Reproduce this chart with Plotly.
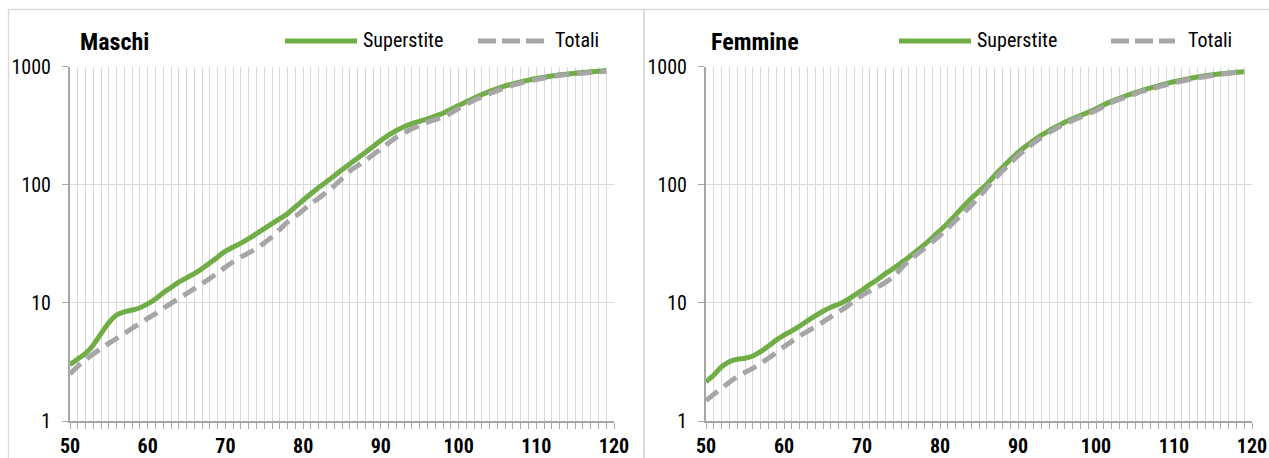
import plotly.graph_objects as go

W, H = 1269, 458

ages = list(range(50, 120))

maschi_superstite = [3.0, 3.35, 3.73, 4.4, 5.5, 6.8, 7.9, 8.4, 8.7, 9.1,
                     9.8, 10.8, 12.2, 13.5, 15.0, 16.3, 17.7, 19.5, 21.8, 24.5,
                     27.4, 29.7, 32.1, 35, 38.6, 42.6, 46.9, 51.7, 57, 65,
                     74, 84, 95, 106, 119, 134, 150, 168, 188, 211,
                     237, 263, 288, 310, 329, 345, 362, 382, 404, 435,
                     470, 505, 542, 580, 618, 653, 687, 716, 743, 769,
                     794, 815, 835, 853, 869, 882, 893, 905, 916, 929]

maschi_totali = [2.5, 2.9, 3.3, 3.7, 4.1, 4.55, 5.0, 5.5, 6.1, 6.7,
                 7.4, 8.1, 9.0, 9.9, 10.9, 12.0, 13.2, 14.6, 16.1, 18.0,
                 20.1, 22.3, 24.5, 26.5, 28.8, 32.2, 36.2, 42, 48.4, 54,
                 61, 69, 77, 87, 98, 113, 131, 145, 160, 180,
                 201, 226, 253, 276, 298, 318, 339, 356, 374, 405,
                 441, 480, 519, 555, 591, 628, 665, 697, 728, 754,
                 778, 803, 826, 843, 859, 870, 881, 892, 903, 916]

femmine_superstite = [2.15, 2.45, 2.88, 3.18, 3.33, 3.40, 3.55, 3.86, 4.31, 4.84,
                      5.34, 5.8, 6.35, 7.05, 7.76, 8.5, 9.2, 9.75, 10.5, 11.6,
                      12.8, 14.3, 15.8, 17.7, 19.5, 21.8, 24.4, 27.5, 31.1, 35.6,
                      41, 47.3, 55.5, 65.5, 76.5, 88, 101, 120, 140, 163,
                      188, 212, 237, 263, 288, 313, 339, 362, 386, 412,
                      441, 475, 509, 541, 573, 603, 632, 661, 689, 717,
                      745, 770, 795, 817, 837, 855, 871, 884, 896, 906]

femmine_totali = [1.49, 1.68, 1.90, 2.13, 2.38, 2.58, 2.79, 3.08, 3.40, 3.80,
                  4.26, 4.72, 5.24, 5.73, 6.27, 6.9, 7.62, 8.4, 9.25, 10.4,
                  11.6, 12.6, 13.6, 14.9, 16.6, 19.5, 22.9, 25.7, 28.8, 32.8,
                  37.3, 43, 49.9, 57.5, 66.7, 79, 94, 112, 131, 153,
                  176, 200, 226, 252, 278, 303, 328, 351, 374, 399,
                  426, 461, 497, 528, 558, 589, 620, 647, 674, 701,
                  729, 755, 780, 801, 822, 842, 861, 879, 896, 906]

x_tick_vals = [50, 60, 70, 80, 90, 100, 110, 120]
x_tick_text = ["50", "60", "70", "80", "90", "100", "110", "120"]
y_tick_vals = [1, 10, 100, 1000]
y_tick_text = ["1", "10", "100", "1000"]

panel_titles = ["Maschi", "Femmine"]
series_names = ["Superstite", "Totali"]

GREEN = "#70ad47"
GRAY = "#a6a6a6"
GRID = "#d9d9d9"
AXIS = "#a6a6a6"
FONT = "Liberation Sans Narrow, Arial Narrow, Roboto Condensed, DejaVu Sans Condensed, Liberation Sans, Arial, sans-serif"


def px_x(p):
    return p / W


def px_y(p):
    return 1 - p / H


fig = go.Figure()

panels = [
    dict(xa="x", ya="y", xd=[px_x(70), px_x(614)], data=(maschi_superstite, maschi_totali)),
    dict(xa="x2", ya="y2", xd=[px_x(706), px_x(1252)], data=(femmine_superstite, femmine_totali)),
]

for p in panels:
    sup, tot = p["data"]
    fig.add_trace(go.Scatter(x=ages, y=sup, mode="lines", name=series_names[0],
                             line=dict(color=GREEN, width=5, shape="spline", smoothing=0.8),
                             xaxis=p["xa"], yaxis=p["ya"], showlegend=False))
    fig.add_trace(go.Scatter(x=ages, y=tot, mode="lines", name=series_names[1],
                             line=dict(color=GRAY, width=5, shape="spline", smoothing=0.8, dash="15px,8px"),
                             xaxis=p["xa"], yaxis=p["ya"], showlegend=False))

ydom = [px_y(421), px_y(66.7)]

xcommon = dict(range=[50, 120], tickmode="array", tickvals=x_tick_vals, ticktext=x_tick_text,
               ticks="outside", ticklen=6, tickcolor=AXIS, tickwidth=1,
               showline=True, linecolor=AXIS, linewidth=2,
               showgrid=True, gridcolor=GRID, gridwidth=1, zeroline=False,
               tickfont=dict(family=FONT, size=20, color="#000000", weight="bold"),
               minor=dict(dtick=1, tick0=50, ticks="outside", ticklen=6, tickcolor=AXIS,
                          showgrid=True, gridcolor=GRID, gridwidth=1),
               ticklabelstandoff=0, fixedrange=True, automargin=False)
ycommon = dict(type="log", range=[0, 3], tickmode="array", tickvals=y_tick_vals, ticktext=y_tick_text,
               ticks="outside", ticklen=6, tickcolor=AXIS, tickwidth=1,
               showline=True, linecolor=AXIS, linewidth=2,
               showgrid=True, gridcolor=GRID, gridwidth=1, zeroline=False,
               tickfont=dict(family=FONT, size=20, color="#000000"),
               ticklabelstandoff=7, domain=ydom, fixedrange=True, automargin=False)

fig.update_layout(
    width=W, height=H,
    margin=dict(l=0, r=0, t=0, b=0, autoexpand=False),
    paper_bgcolor="white", plot_bgcolor="white",
    xaxis=dict(domain=panels[0]["xd"], anchor="y", **xcommon),
    yaxis=dict(anchor="x", **ycommon),
    xaxis2=dict(domain=panels[1]["xd"], anchor="y2", **xcommon),
    yaxis2=dict(anchor="x2", **ycommon),
    showlegend=False,
)

shapes = []
# chart borders
shapes.append(dict(type="rect", xref="paper", yref="paper", x0=px_x(8.5), x1=px_x(644), y0=px_y(470), y1=px_y(9.5),
                   line=dict(color=GRID, width=1.3), layer="below"))
shapes.append(dict(type="rect", xref="paper", yref="paper", x0=px_x(644), x1=px_x(1290), y0=px_y(470), y1=px_y(9.5),
                   line=dict(color=GRID, width=1.3), layer="below"))

annotations = []
legend_pos = [
    dict(title_x=78, g0=285, g1=357, t1=361, d0=478, d1=544, t2=553),
    dict(title_x=709, g0=899, g1=971, t1=975, d0=1111, d1=1175, t2=1186),
]
for i, lp in enumerate(legend_pos):
    annotations.append(dict(text="<b>%s</b>" % panel_titles[i], x=px_x(lp["title_x"]), y=px_y(42.5),
                            xref="paper", yref="paper", xanchor="left", yanchor="middle", showarrow=False,
                            font=dict(family=FONT, size=24, color="#000000")))
    shapes.append(dict(type="line", xref="paper", yref="paper", x0=px_x(lp["g0"]), x1=px_x(lp["g1"]),
                       y0=px_y(41), y1=px_y(41), line=dict(color=GREEN, width=5)))
    shapes.append(dict(type="line", xref="paper", yref="paper", x0=px_x(lp["d0"]), x1=px_x(lp["d1"]),
                       y0=px_y(41), y1=px_y(41), line=dict(color=GRAY, width=5, dash="18px,6px")))
    annotations.append(dict(text=series_names[0], x=px_x(lp["t1"]), y=px_y(40.5),
                            xref="paper", yref="paper", xanchor="left", yanchor="middle", showarrow=False,
                            font=dict(family=FONT, size=20, color="#000000")))
    annotations.append(dict(text=series_names[1], x=px_x(lp["t2"]), y=px_y(40.5),
                            xref="paper", yref="paper", xanchor="left", yanchor="middle", showarrow=False,
                            font=dict(family=FONT, size=20, color="#000000")))

fig.update_layout(shapes=shapes, annotations=annotations)

fig.write_html("out.html", config={"displayModeBar": False},
               post_script="document.body.style.margin='0';document.body.style.padding='0';"
                           "document.documentElement.style.overflow='hidden';")
